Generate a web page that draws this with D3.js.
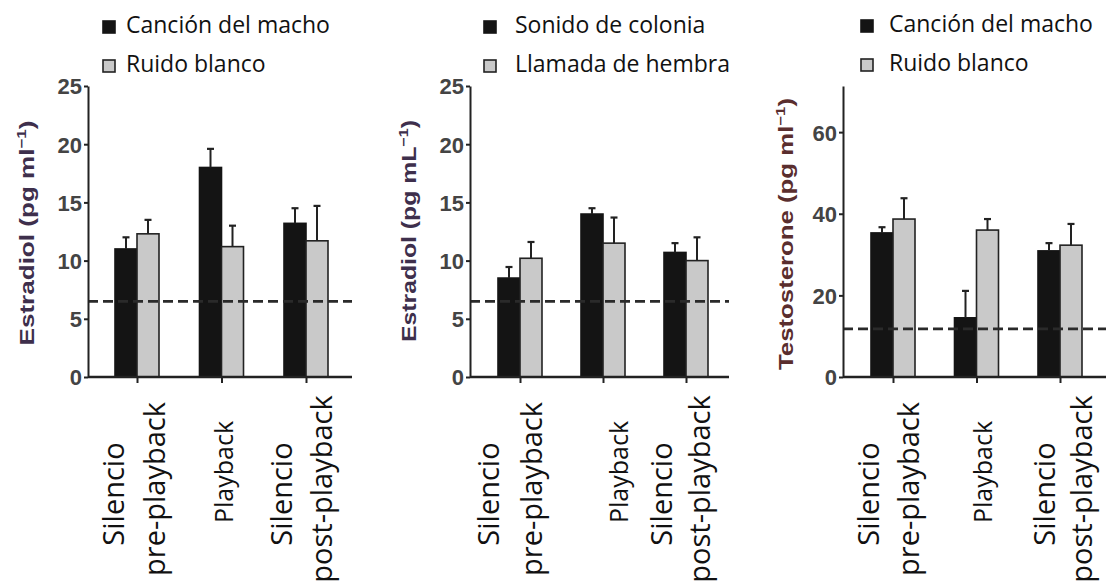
<!DOCTYPE html>
<html>
<head>
<meta charset="utf-8">
<script src="https://cdn.jsdelivr.net/npm/d3@7"></script>
<style>
  body { margin: 0; background: #fff; }
  svg { display: block; }
</style>
</head>
<body>
<svg id="chart" width="1106" height="588"></svg>
<script>
// ---- Data ----------------------------------------------------------------
// Experimental periods (x categories) and their label lines
const categories = ["pre", "playback", "post"];
const categoryLines = [["Silencio", "pre-playback"], ["Playback"], ["Silencio", "post-playback"]];

// Panel 1: estradiol, male song vs white noise
const seriesA = ["Canción del macho", "Ruido blanco"];
const songEstradiolMean = [11.0, 18.0, 13.2];
const songEstradiolSE = [1.0, 1.6, 1.3];
const noiseEstradiolMean = [12.3, 11.2, 11.7];
const noiseEstradiolSE = [1.2, 1.8, 3.0];
const baselineA = 6.5;
const ticksA = [0, 5, 10, 15, 20, 25];

// Panel 2: estradiol, colony sound vs female call
const seriesB = ["Sonido de colonia", "Llamada de hembra"];
const colonyEstradiolMean = [8.5, 14.0, 10.7];
const colonyEstradiolSE = [0.95, 0.5, 0.8];
const femaleEstradiolMean = [10.2, 11.5, 10.0];
const femaleEstradiolSE = [1.4, 2.2, 2.0];
const baselineB = 6.5;
const ticksB = [0, 5, 10, 15, 20, 25];

// Panel 3: testosterone, male song vs white noise
const seriesC = ["Canción del macho", "Ruido blanco"];
const songTestoMean = [35.3, 14.5, 30.9];
const songTestoSE = [1.4, 6.6, 1.9];
const noiseTestoMean = [38.7, 36.0, 32.3];
const noiseTestoSE = [5.1, 2.7, 5.2];
const baselineC = 11.8;
const ticksC = [0, 20, 40, 60];

// ---- Panel definitions built from the arrays above ---------------------
const panels = [
  {
    series: seriesA, means: [songEstradiolMean, noiseEstradiolMean], ses: [songEstradiolSE, noiseEstradiolSE],
    baseline: baselineA, ticks: ticksA, yMax: 25, hormone: "Estradiol", unit: "ml",
    layout: { left: 88, right: 352, first: 137, last: 306,
              titleX: 34, titleY: 233, titleLen: 225, titleColor: "#3e2f4c",
              legendSq: 103, legendTx: 126, legendY: [33, 72],
              labelShift: [[-13, 28], [11], [-14, 26]] }
  },
  {
    series: seriesB, means: [colonyEstradiolMean, femaleEstradiolMean], ses: [colonyEstradiolSE, femaleEstradiolSE],
    baseline: baselineB, ticks: ticksB, yMax: 25, hormone: "Estradiol", unit: "mL",
    layout: { left: 470, right: 729, first: 520, last: 686,
              titleX: 416, titleY: 231, titleLen: 222, titleColor: "#3e2f4c",
              legendSq: 484, legendTx: 515, legendY: [33, 72],
              labelShift: [[-21, 22], [25], [-14, 24]] }
  },
  {
    series: seriesC, means: [songTestoMean, noiseTestoMean], ses: [songTestoSE, noiseTestoSE],
    baseline: baselineC, ticks: ticksC, yMax: 71.3, hormone: "Testosterone", unit: "ml",
    layout: { left: 843, right: 1106, first: 893, last: 1060,
              titleX: 793, titleY: 234, titleLen: 272, titleColor: "#5a2e2e",
              legendSq: 861, legendTx: 889, legendY: [32, 71],
              labelShift: [[-14, 26], [15], [-5, 32]] }
  }
];

const Y_BOTTOM = 377, Y_TOP = 86;
const BAR_W = 22;
const fills = ["#141414", "#c9c9c9"];
const strokes = ["#141414", "#222"];

const svg = d3.select("#chart");

panels.forEach(p => {
  const L = p.layout;
  const g = svg.append("g");

  const y = d3.scaleLinear().domain([0, p.yMax]).range([Y_BOTTOM, Y_TOP]);
  const x = d3.scalePoint().domain(categories).range([L.first, L.last]);
  const sub = d3.scaleBand().domain([0, 1]).range([-BAR_W, BAR_W]).padding(0);

  // bars
  const rows = [];
  p.means.forEach((vals, s) => vals.forEach((v, i) => rows.push({ s, cat: categories[i], v, se: p.ses[s][i] })));

  g.selectAll("rect.bar").data(rows).join("rect")
    .attr("class", "bar")
    .attr("x", d => x(d.cat) + sub(d.s))
    .attr("width", sub.bandwidth())
    .attr("y", d => y(d.v))
    .attr("height", d => y(0) - y(d.v))
    .attr("fill", d => fills[d.s])
    .attr("stroke", d => strokes[d.s])
    .attr("stroke-width", 1.6);

  // error bars (upper whisker with cap)
  const cx = d => x(d.cat) + sub(d.s) + sub.bandwidth() / 2;
  g.selectAll("line.err").data(rows).join("line")
    .attr("class", "err")
    .attr("x1", cx).attr("x2", cx)
    .attr("y1", d => y(d.v)).attr("y2", d => y(d.v + d.se))
    .attr("stroke", "#222").attr("stroke-width", 2);
  g.selectAll("line.cap").data(rows).join("line")
    .attr("class", "cap")
    .attr("x1", d => cx(d) - 3.5).attr("x2", d => cx(d) + 3.5)
    .attr("y1", d => y(d.v + d.se)).attr("y2", d => y(d.v + d.se))
    .attr("stroke", "#222").attr("stroke-width", 2.2);

  // detection threshold (dashed)
  g.append("line")
    .attr("x1", L.left).attr("x2", L.right)
    .attr("y1", y(p.baseline)).attr("y2", y(p.baseline))
    .attr("stroke", "#2a2a2a").attr("stroke-width", 2.6)
    .attr("stroke-dasharray", "10,5");

  // y axis
  const ya = g.append("g").attr("transform", `translate(${L.left},0)`)
    .call(d3.axisLeft(y).tickValues(p.ticks).tickSize(4).tickSizeOuter(0).tickPadding(2));
  ya.select(".domain").attr("stroke", "#222").attr("stroke-width", 2);
  ya.selectAll(".tick line").attr("stroke", "#222").attr("stroke-width", 2);
  ya.selectAll(".tick text")
    .attr("font-family", "'Liberation Sans', Arial, sans-serif")
    .attr("font-size", 22).attr("font-weight", "bold").attr("fill", "#444")
    .attr("dy", "0.36em");

  // x axis
  const xa = g.append("g").attr("transform", `translate(0,${Y_BOTTOM})`)
    .call(d3.axisBottom(x).tickSize(6).tickFormat(""));
  xa.select(".domain").remove();
  xa.selectAll(".tick line").attr("stroke", "#222").attr("stroke-width", 2);
  xa.append("line").attr("x1", L.left).attr("x2", L.right)
    .attr("stroke", "#222").attr("stroke-width", 2.4);

  // rotated category labels
  categories.forEach((cat, i) => {
    const lines = categoryLines[i];
    lines.forEach((txt, j) => {
      const single = lines.length === 1;
      const bx = x(cat) + L.labelShift[i][j];
      const cy = single ? 472 : (j === 0 ? 494 : 489);
      g.append("text")
        .attr("transform", `translate(${bx},${cy}) rotate(-90)`)
        .attr("text-anchor", "middle")
        .attr("font-family", "'Open Sans', sans-serif")
        .attr("font-size", single ? 25 : 29)
        .attr("fill", "#111")
        .text(txt);
    });
  });

  // y title
  const t = g.append("text")
    .attr("transform", `translate(${L.titleX},${L.titleY}) rotate(-90)`)
    .attr("text-anchor", "middle")
    .attr("font-family", "'Liberation Sans', Arial, sans-serif")
    .attr("font-size", 20)
    .attr("font-weight", "bold")
    .attr("fill", L.titleColor)
    .attr("textLength", L.titleLen)
    .attr("lengthAdjust", "spacingAndGlyphs");
  t.append("tspan").text(`${p.hormone} (pg ${p.unit}`);
  t.append("tspan").attr("font-size", 13).attr("dy", -8).text("−1");
  t.append("tspan").attr("dy", 8).text(")");

  // legend
  p.series.forEach((name, s) => {
    const by = L.legendY[s];
    g.append("rect")
      .attr("x", L.legendSq).attr("y", by - 12)
      .attr("width", 12).attr("height", 12)
      .attr("fill", fills[s]).attr("stroke", strokes[s]).attr("stroke-width", 1.6);
    g.append("text")
      .attr("x", L.legendTx).attr("y", by)
      .attr("font-family", "'Open Sans', sans-serif")
      .attr("font-size", 23).attr("fill", "#111")
      .text(name);
  });
});
</script>
</body>
</html>
